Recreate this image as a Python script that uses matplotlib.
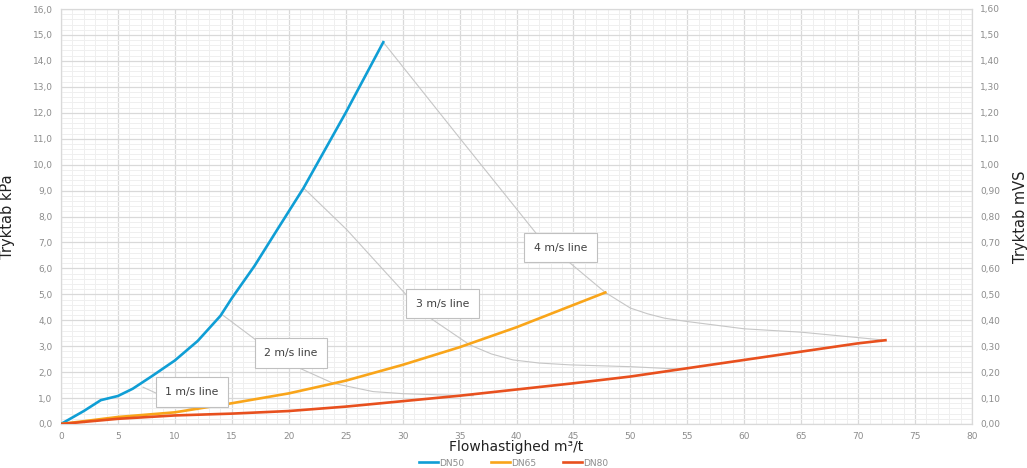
import matplotlib.pyplot as plt
import numpy as np
from matplotlib.ticker import MultipleLocator, FuncFormatter

# values (flow m3/t, pressure drop kPa)
dn50_x = [0, 2, 3.5, 5, 6.3, 8, 10, 12, 14, 15, 17, 19, 21.3, 25, 28.3]
dn50_y = [0, 0.5, 0.92, 1.08, 1.36, 1.85, 2.45, 3.2, 4.17, 4.85, 6.1, 7.5, 9.1, 12.0, 14.72]

dn65_x = [0, 5, 10, 15, 20, 25, 30, 35, 40, 45, 47.8]
dn65_y = [0, 0.27, 0.45, 0.8, 1.18, 1.67, 2.28, 2.96, 3.73, 4.59, 5.07]

dn80_x = [0, 5, 10, 15, 20, 25, 30, 35, 40, 45, 50, 55, 60, 65, 70, 72.4]
dn80_y = [0, 0.2, 0.33, 0.4, 0.5, 0.67, 0.88, 1.09, 1.33, 1.57, 1.83, 2.15, 2.47, 2.79, 3.11, 3.23]

# velocity lines
v1_x = [7.2, 8.7, 10.7, 12.0]
v1_y = [1.42, 1.12, 0.67, 0.55]
v2_x = [14.2, 17.3, 20.1, 23.9, 27.4, 30, 33.5, 36.2]
v2_y = [4.2, 3.18, 2.32, 1.57, 1.25, 1.17, 1.12, 1.09]
v3_x = [21.3, 25.1, 28.5, 31.8, 35.9, 37.8, 39.7, 42, 44.7, 50, 54.2]
v3_y = [9.1, 7.49, 5.85, 4.27, 3.05, 2.7, 2.47, 2.35, 2.28, 2.21, 2.12]
v4_x = [28.3, 35, 42, 47.8, 50, 51.5, 53, 55, 60, 65, 72.4]
v4_y = [14.72, 11.03, 7.2, 5.07, 4.47, 4.25, 4.08, 3.95, 3.67, 3.54, 3.23]

labels = ["1 m/s line", "2 m/s line", "3 m/s line", "4 m/s line"]
label_x = [11.5, 20.2, 33.5, 43.9]
label_y = [1.24, 2.73, 4.64, 6.8]

fig = plt.figure(figsize=(10.27, 4.68), dpi=100)
ax = fig.add_axes([61/1027, 1 - 424/468, 911/1027, 415/468])

tick_col = '#8c8c8c'
ax.set_xlim(0, 80)
ax.set_ylim(0, 16)
ax.xaxis.set_major_locator(MultipleLocator(5))
ax.xaxis.set_minor_locator(MultipleLocator(1))
ax.yaxis.set_major_locator(MultipleLocator(1))
ax.yaxis.set_minor_locator(MultipleLocator(0.2))
ax.yaxis.set_major_formatter(FuncFormatter(lambda v, p: f"{v:.1f}".replace('.', ',')))
ax.grid(which='major', color='#d9d9d9', lw=0.9)
ax.grid(which='minor', color='#efefef', lw=0.7)
ax.set_axisbelow(True)
ax.tick_params(which='both', length=0, labelsize=6.5, colors=tick_col, pad=6)
for s in ax.spines.values():
    s.set_color('#d9d9d9')
    s.set_linewidth(0.9)

gray = '#c6c6c6'
for vx, vy in [(v1_x, v1_y), (v2_x, v2_y), (v3_x, v3_y), (v4_x, v4_y)]:
    ax.plot(vx, vy, color=gray, lw=0.8, zorder=2)

ax.plot(dn50_x, dn50_y, color='#0f9ed5', lw=1.9, label='DN50', zorder=3)
ax.plot(dn65_x, dn65_y, color='#f9a51a', lw=1.9, label='DN65', zorder=3)
ax.plot(dn80_x, dn80_y, color='#e8501e', lw=1.9, label='DN80', zorder=3)

for t, lx, ly in zip(labels, label_x, label_y):
    ax.text(lx, ly, t, ha='center', va='center', fontsize=7.8, color='#404040', zorder=5,
            bbox=dict(boxstyle='square,pad=0.9', fc='white', ec='#c0c0c0', lw=0.8))

ax.set_xlabel('Flowhastighed m³/t', fontsize=10, color='#222222')
ax.xaxis.set_label_coords(0.5, -16/415)
ax.set_ylabel('Tryktab kPa', fontsize=10.5, color='#222222')
ax.yaxis.set_label_coords(-46/911, 0.5)

ax2 = ax.twinx()
ax2.set_ylim(0, 1.6)
ax2.yaxis.set_major_locator(MultipleLocator(0.1))
ax2.yaxis.set_major_formatter(FuncFormatter(lambda v, p: f"{v:.2f}".replace('.', ',')))
ax2.tick_params(length=0, labelsize=6.5, colors=tick_col, pad=6)
for s in ax2.spines.values():
    s.set_visible(False)
ax2.set_ylabel('Tryktab mVS', fontsize=10.5, color='#222222')
ax2.yaxis.set_label_coords(1 + 41/911, 0.5)

h, l = ax.get_legend_handles_labels()
fig.legend(h, l, loc='center', bbox_to_anchor=(0.5, 5/468), ncol=3, frameon=False,
           fontsize=6.5, labelcolor=tick_col, handlelength=2.1, columnspacing=3,
           handletextpad=0.1, borderpad=0)

fig.savefig('out.png', dpi=100)
